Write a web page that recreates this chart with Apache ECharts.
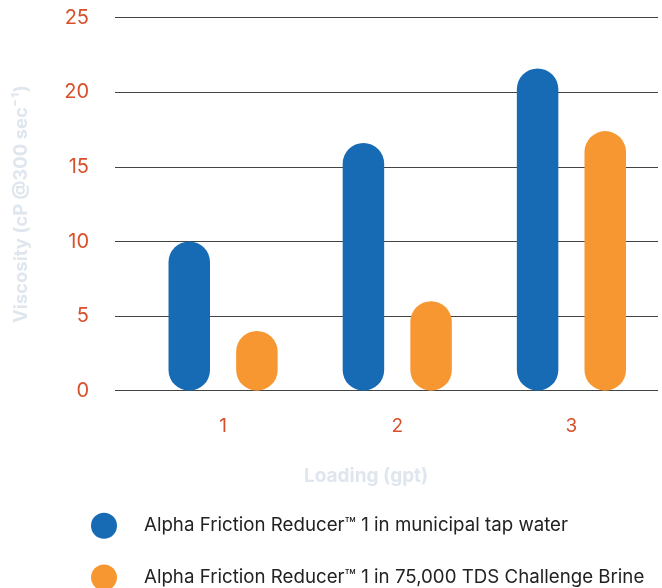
<!DOCTYPE html>
<html><head><meta charset="utf-8">
<script src="https://cdn.jsdelivr.net/npm/echarts@6/dist/echarts.min.js"></script>
<style>html,body{margin:0;padding:0;background:#fff}#c{width:662px;height:588px}</style>
</head><body><div id="c"></div>
<script>
const categories = ['1', '2', '3'];
const tapWater = [10, 16.6, 21.6];
const brine = [4, 6, 17.4];
const seriesNames = ['Alpha Friction Reducer™ 1 in municipal tap water', 'Alpha Friction Reducer™ 1 in 75,000 TDS Challenge Brine'];
const yTicks = [0, 5, 10, 15, 20, 25];

const chart = echarts.init(document.getElementById('c'), null, {renderer: 'canvas'});
const labelColor = '#d8502b';
const nameColor = '#dfe6ee';
const legendBase = {
  orient: 'vertical', left: 86, itemWidth: 26, itemHeight: 26, icon: 'circle',
  textStyle: {color: '#222', fontSize: 18.7, fontFamily: 'Inter', padding: [0, 0, 0, 22]}
};
chart.setOption({
  animation: false,
  title: {
    text: 'Loading (gpt)', left: 299, top: 462,
    textStyle: {color: nameColor, fontSize: 19, fontWeight: 'bold', fontFamily: 'Inter'}
  },
  legend: [
    Object.assign({}, legendBase, {top: 507.7, data: [seriesNames[0]]}),
    Object.assign({}, legendBase, {top: 559.5, data: [seriesNames[1]]})
  ],
  grid: [
    {left: 115, right: 4, top: 17.7, bottom: 197.3},
    {left: 136, right: 3.5, top: 17.7, bottom: 197.3}
  ],
  xAxis: [
    {gridIndex: 0, type: 'value', show: false},
    {gridIndex: 1, type: 'category', data: categories,
     axisLine: {show: false}, axisTick: {show: false},
     axisLabel: {color: labelColor, fontSize: 19, fontFamily: 'Inter', margin: 26}}
  ],
  yAxis: [
    {gridIndex: 0, type: 'value', min: 0, max: 25, interval: 5,
     name: 'Viscosity (cP @300 sec⁻¹)', nameLocation: 'middle', nameGap: 84, nameRotate: 90,
     nameTextStyle: {color: nameColor, fontSize: 18.5, fontWeight: 'bold', fontFamily: 'Inter'},
     axisLine: {show: false}, axisTick: {show: false},
     axisLabel: {color: labelColor, fontSize: 20, fontFamily: 'Inter', margin: 26,
                 formatter: v => yTicks.includes(v) ? String(v) : ''},
     splitLine: {lineStyle: {color: '#444', width: 1.2}}},
    {gridIndex: 1, type: 'value', min: 0, max: 25, interval: 5, show: false}
  ],
  series: [
    {name: seriesNames[0], type: 'bar', xAxisIndex: 1, yAxisIndex: 1, data: tapWater,
     barWidth: 41.5, barGap: '63%', itemStyle: {color: '#176bb5', borderRadius: 21}},
    {name: seriesNames[1], type: 'bar', xAxisIndex: 1, yAxisIndex: 1, data: brine,
     barWidth: 41.5, barGap: '63%', itemStyle: {color: '#f79731', borderRadius: 21}}
  ]
});
</script></body></html>
